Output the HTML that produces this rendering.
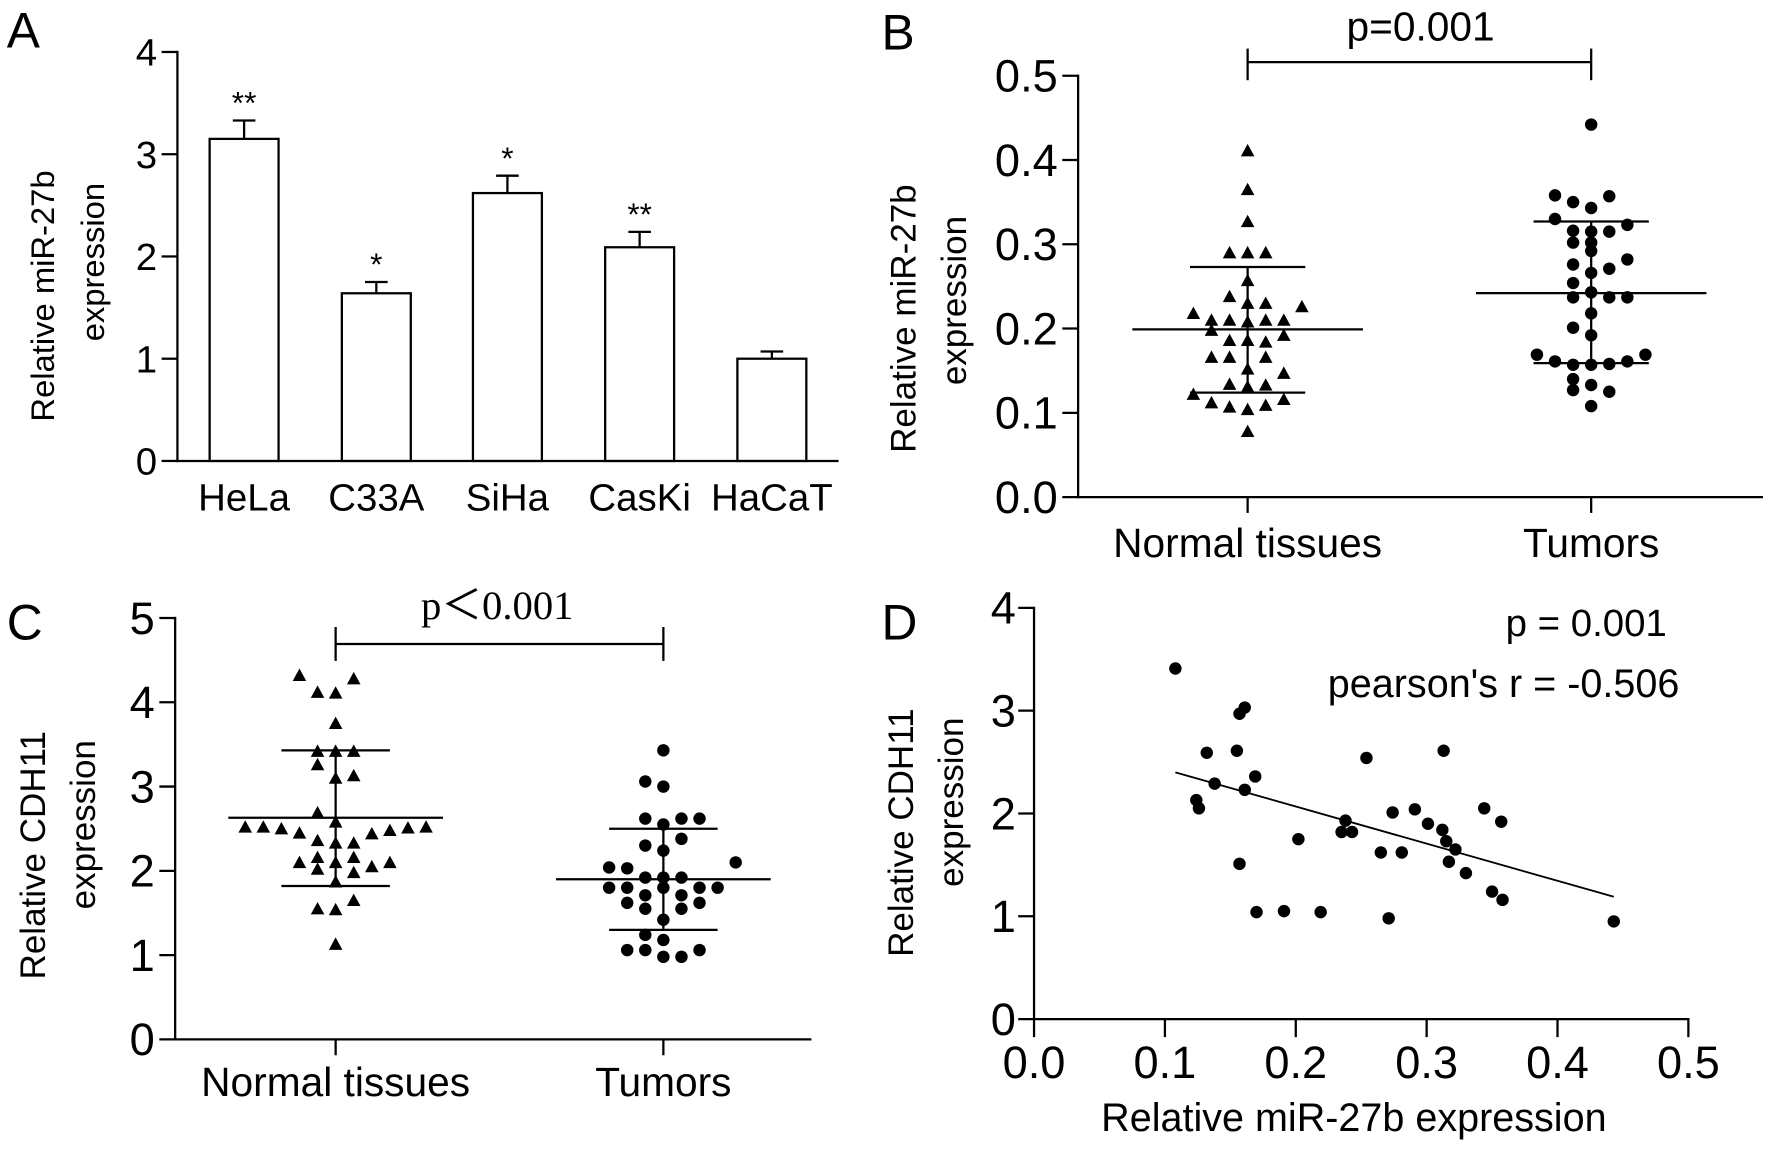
<!DOCTYPE html>
<html><head><meta charset="utf-8"><style>
html,body{margin:0;padding:0;background:#fff;}
svg{display:block;font-family:"Liberation Sans",Arial,sans-serif;}
</style></head><body>
<svg id="fig" width="1772" height="1149" viewBox="0 0 1568 1017" preserveAspectRatio="none" xmlns="http://www.w3.org/2000/svg">
<rect width="1568" height="1017" fill="#fff"/>
<g id="pA"></g>
<g id="pB"></g>
<g id="pC"></g>
<g id="pD"></g>
</svg>
<script>
// ---- Panel A data ----
const aCats = ["HeLa","C33A","SiHa","CasKi","HaCaT"];
const aVals = [3.15,1.64,2.62,2.09,1.0];
const aErr = [0.18,0.11,0.17,0.15,0.07];
const aStars = ["**","*","*","**",""];
const aTicks = [0,1,2,3,4];
// ---- Panel B data ----
const bCats = ["Normal tissues","Tumors"];
const bTicks = ["0.0","0.1","0.2","0.3","0.4","0.5"];
const bNormCol = [0,0,0,-2,0,2,0,-2,0,2,-6,6,-4,-2,2,4,0,-4,4,-2,0,2,-4,-2,2,0,4,-2,2,-6,0,-4,-2,0,2,4,0];
const bNormVal = [0.411,0.365,0.327,0.29,0.29,0.29,0.257,0.238,0.23,0.23,0.218,0.226,0.21,0.21,0.21,0.21,0.208,0.198,0.192,0.186,0.186,0.184,0.166,0.166,0.166,0.152,0.147,0.134,0.133,0.122,0.131,0.112,0.107,0.104,0.109,0.116,0.078];
const bTumCol = [0,-4,2,-2,0,-4,4,-2,0,2,-2,0,0,4,-2,2,0,-2,0,-2,2,4,0,-2,0,-6,6,-4,-2,0,2,4,-2,0,-2,2,0];
const bTumVal = [0.442,0.358,0.357,0.35,0.343,0.33,0.323,0.316,0.315,0.315,0.302,0.302,0.292,0.282,0.276,0.271,0.266,0.254,0.243,0.237,0.237,0.237,0.218,0.201,0.192,0.169,0.169,0.161,0.157,0.157,0.158,0.161,0.14,0.133,0.127,0.125,0.108];
const bStats = [[0.199,0.273,0.124],[0.242,0.327,0.159]];
// ---- Panel C data ----
const cCats = ["Normal tissues","Tumors"];
const cTicks = [0,1,2,3,4,5];
const cNormCol = [-2,1,-1,0,0,-1,0,1,-1,0,1,-1,0,-5,-4,-3,3,4,5,-2,2,-1,1,0,-1,1,-2,0,3,-1,1,2,0,1,-1,0,0];
const cNormVal = [4.32,4.28,4.12,4.11,3.75,3.42,3.42,3.42,3.26,3.1,3.13,2.69,2.58,2.52,2.52,2.5,2.48,2.51,2.52,2.45,2.44,2.36,2.33,2.33,2.16,2.16,2.1,2.1,2.1,2.02,1.98,2.05,1.87,1.65,1.55,1.54,1.13];
const cTumCol = [0,-1,0,-1,1,2,0,1,-1,0,4,-3,-2,-1,0,1,-3,-2,0,2,3,-1,1,-2,2,-1,1,0,-1,0,-2,-1,2,0,1];
const cTumVal = [3.43,3.06,3.0,2.62,2.62,2.62,2.55,2.38,2.3,2.24,2.1,2.04,2.03,1.92,1.92,1.92,1.8,1.8,1.8,1.8,1.8,1.71,1.71,1.62,1.62,1.55,1.55,1.42,1.24,1.18,1.06,1.06,1.06,0.98,0.98];
const cStats = [[2.63,3.43,1.82],[1.90,2.50,1.30]];
// ---- Panel D data ----
const dX = [0.108,0.157,0.161,0.132,0.155,0.169,0.138,0.161,0.124,0.126,0.157,0.170,0.191,0.219,0.202,0.238,0.235,0.243,0.254,0.274,0.291,0.265,0.281,0.271,0.301,0.312,0.313,0.315,0.322,0.317,0.330,0.344,0.357,0.350,0.358,0.443];
const dY = [3.41,2.97,3.03,2.59,2.61,2.36,2.29,2.23,2.13,2.05,1.51,1.04,1.05,1.04,1.75,1.93,1.82,1.82,2.54,2.01,2.04,1.62,1.62,0.98,1.90,1.84,2.61,1.73,1.65,1.53,1.42,2.05,1.92,1.24,1.16,0.95];
const dFit = [[0.108,2.40],[0.443,1.19]];
const dXTicks = ["0.0","0.1","0.2","0.3","0.4","0.5"];
const dYTicks = [0,1,2,3,4];

const NS="http://www.w3.org/2000/svg";
function mk(parent,tag,attrs,text){const e=document.createElementNS(NS,tag);for(const k in attrs)e.setAttribute(k,attrs[k]);if(text!==undefined)e.textContent=text;parent.appendChild(e);return e;}
function line(p,x1,y1,x2,y2,w){return mk(p,'line',{x1,y1,x2,y2,stroke:'#000','stroke-width':w||2});}
function tri(p,cx,cy){return mk(p,'polygon',{points:`${cx},${cy-6} ${cx-6},${cy+5} ${cx+6},${cy+5}`,fill:'#000'});}
function dot(p,cx,cy){return mk(p,'circle',{cx,cy,r:5.5,fill:'#000'});}

// ===== Panel A =====
(function(){
const g=document.getElementById('pA');
const x0=157, yA=v=>408-v*90.5;
let t=mk(g,'text',{x:6,y:42,'font-size':44},'A');

line(g,x0,yA(4)-1,x0,yA(0)+1);
line(g,x0-1,yA(0),742,yA(0));
aTicks.forEach(v=>{line(g,x0-14,yA(v),x0,yA(v));
 const tt=mk(g,'text',{x:x0-18,y:yA(v)+12,'font-size':34,'text-anchor':'end'},String(v));
 });
const centers=[216,333,449,566,683];
aCats.forEach((c,i)=>{
 const cx=centers[i],w=61;
 const r=mk(g,'rect',{x:cx-w/2,y:yA(aVals[i]),width:w,height:yA(0)-yA(aVals[i]),fill:'#fff',stroke:'#000','stroke-width':2});
 
 line(g,cx,yA(aVals[i]),cx,yA(aVals[i]+aErr[i]));
 line(g,cx-10,yA(aVals[i]+aErr[i]),cx+10,yA(aVals[i]+aErr[i]));
 if(aStars[i]){const s=mk(g,'text',{x:cx,y:yA(aVals[i]+aErr[i])-6,'font-size':28,'text-anchor':'middle'},aStars[i]);
  }
 const l=mk(g,'text',{x:cx,y:452,'font-size':34,'text-anchor':'middle'},c);
 
});
const yt=mk(g,'text',{transform:'translate(48,262) rotate(-90)','font-size':29,'text-anchor':'middle'},'Relative miR-27b');

const yt2=mk(g,'text',{transform:'translate(92,232) rotate(-90)','font-size':29,'text-anchor':'middle'},'expression');

})();

// ===== Dot plot helper =====
function dotPlot(g,o){
 const y=o.y;
 line(g,o.x0,y(o.ymax)-1,o.x0,y(0)+1);
 line(g,o.x0-1,y(0),o.xEnd,y(0));
 o.ticks.forEach(tk=>{const v=parseFloat(tk);line(g,o.x0-14,y(v),o.x0,y(v));
  const tt=mk(g,'text',{x:o.x0-18,y:y(v)+14,'font-size':o.tickFs,'text-anchor':'end'},String(tk));
  });
 o.cats.forEach((c,i)=>{
  const cx=o.cx[i];
  line(g,cx,y(0),cx,y(0)+14);
  const l=mk(g,'text',{x:cx,y:o.labY,'font-size':36,'text-anchor':'middle'},c);
  
  const st=o.stats[i];
  const m=line(g,cx-o.mw,y(st[0]),cx+o.mw,y(st[0]));
  
  line(g,cx-o.sw,y(st[1]),cx+o.sw,y(st[1]));
  line(g,cx-o.sw,y(st[2]),cx+o.sw,y(st[2]));
  line(g,cx,y(st[1]),cx,y(st[2]));
 });
 o.series[0].vals.forEach((v,k)=>{const e=tri(g,o.cx[0]+o.series[0].col[k]*o.step,y(v));
  });
 o.series[1].vals.forEach((v,k)=>{const e=dot(g,o.cx[1]+o.series[1].col[k]*o.step,y(v));
  });
 line(g,o.cx[0],o.brY,o.cx[1],o.brY);
 line(g,o.cx[0],o.brY-o.brUp,o.cx[0],o.brY+o.brDn);
 line(g,o.cx[1],o.brY-o.brUp,o.cx[1],o.brY+o.brDn);
}

// ===== Panel B =====
(function(){
const g=document.getElementById('pB');
const y=v=>440-v*746;
let t=mk(g,'text',{x:780,y:44,'font-size':44},'B');
dotPlot(g,{y,x0:954,xEnd:1560,ymax:0.5,ticks:bTicks,cats:bCats,cx:[1104,1408],labY:493,stats:bStats,mw:102,sw:51,step:8,tickFs:40,
 series:[{vals:bNormVal,col:bNormCol},{vals:bTumVal,col:bTumCol}],brY:55,brUp:12,brDn:16});
const p=mk(g,'text',{x:1257,y:36,'font-size':36,'text-anchor':'middle'},'p=0.001');
const yt=mk(g,'text',{transform:'translate(810,282) rotate(-90)','font-size':31,'text-anchor':'middle'},'Relative miR-27b');
const yt2=mk(g,'text',{transform:'translate(855,266) rotate(-90)','font-size':31,'text-anchor':'middle'},'expression');
})();

// ===== Panel C =====
(function(){
const g=document.getElementById('pC');
const y=v=>920-v*74.6;
let t=mk(g,'text',{x:6,y:566,'font-size':44},'C');
dotPlot(g,{y,x0:155,xEnd:718,ymax:5,ticks:cTicks,cats:cCats,cx:[297,587],labY:970,stats:cStats,mw:95,sw:48,step:16,tickFs:40,
 series:[{vals:cNormVal,col:cNormCol},{vals:cTumVal,col:cTumCol}],brY:570,brUp:15,brDn:15});
const p=mk(g,'text',{x:440,y:548,'font-size':36,'text-anchor':'middle','font-family':'Liberation Serif, serif'},'p＜0.001');
const yt=mk(g,'text',{transform:'translate(40,757) rotate(-90)','font-size':31,'text-anchor':'middle'},'Relative CDH11');
const yt2=mk(g,'text',{transform:'translate(84,730) rotate(-90)','font-size':31,'text-anchor':'middle'},'expression');
})();

// ===== Panel D =====
(function(){
const g=document.getElementById('pD');
const x0=915, X=v=>x0+v*1158, Y=v=>902-v*91;
let t=mk(g,'text',{x:780,y:566,'font-size':44},'D');
line(g,x0,Y(4)-1,x0,Y(0)+1);
line(g,x0-1,Y(0),X(0.5)+1,Y(0));
dYTicks.forEach(v=>{line(g,x0-14,Y(v),x0,Y(v));
 const tt=mk(g,'text',{x:x0-16,y:Y(v)+14,'font-size':40,'text-anchor':'end'},String(v));
 });
dXTicks.forEach(tk=>{const v=parseFloat(tk);line(g,X(v),Y(0),X(v),Y(0)+16);
 const tt=mk(g,'text',{x:X(v),y:954,'font-size':40,'text-anchor':'middle'},tk);
 });
const fl=line(g,X(dFit[0][0]),Y(dFit[0][1]),X(dFit[1][0]),Y(dFit[1][1]),1.6);

dX.forEach((v,i)=>{const e=dot(g,X(v),Y(dY[i]));
 });
const p1=mk(g,'text',{x:1475,y:563,'font-size':34,'text-anchor':'end'},'p = 0.001');
const p2=mk(g,'text',{x:1486,y:617,'font-size':35,'text-anchor':'end'},"pearson's r = -0.506");
const xt=mk(g,'text',{x:1198,y:1001,'font-size':35,'text-anchor':'middle'},'Relative miR-27b expression');
const yt=mk(g,'text',{transform:'translate(808,737) rotate(-90)','font-size':31,'text-anchor':'middle'},'Relative CDH11');
const yt2=mk(g,'text',{transform:'translate(852,710) rotate(-90)','font-size':31,'text-anchor':'middle'},'expression');
})();
</script>
</body></html>
